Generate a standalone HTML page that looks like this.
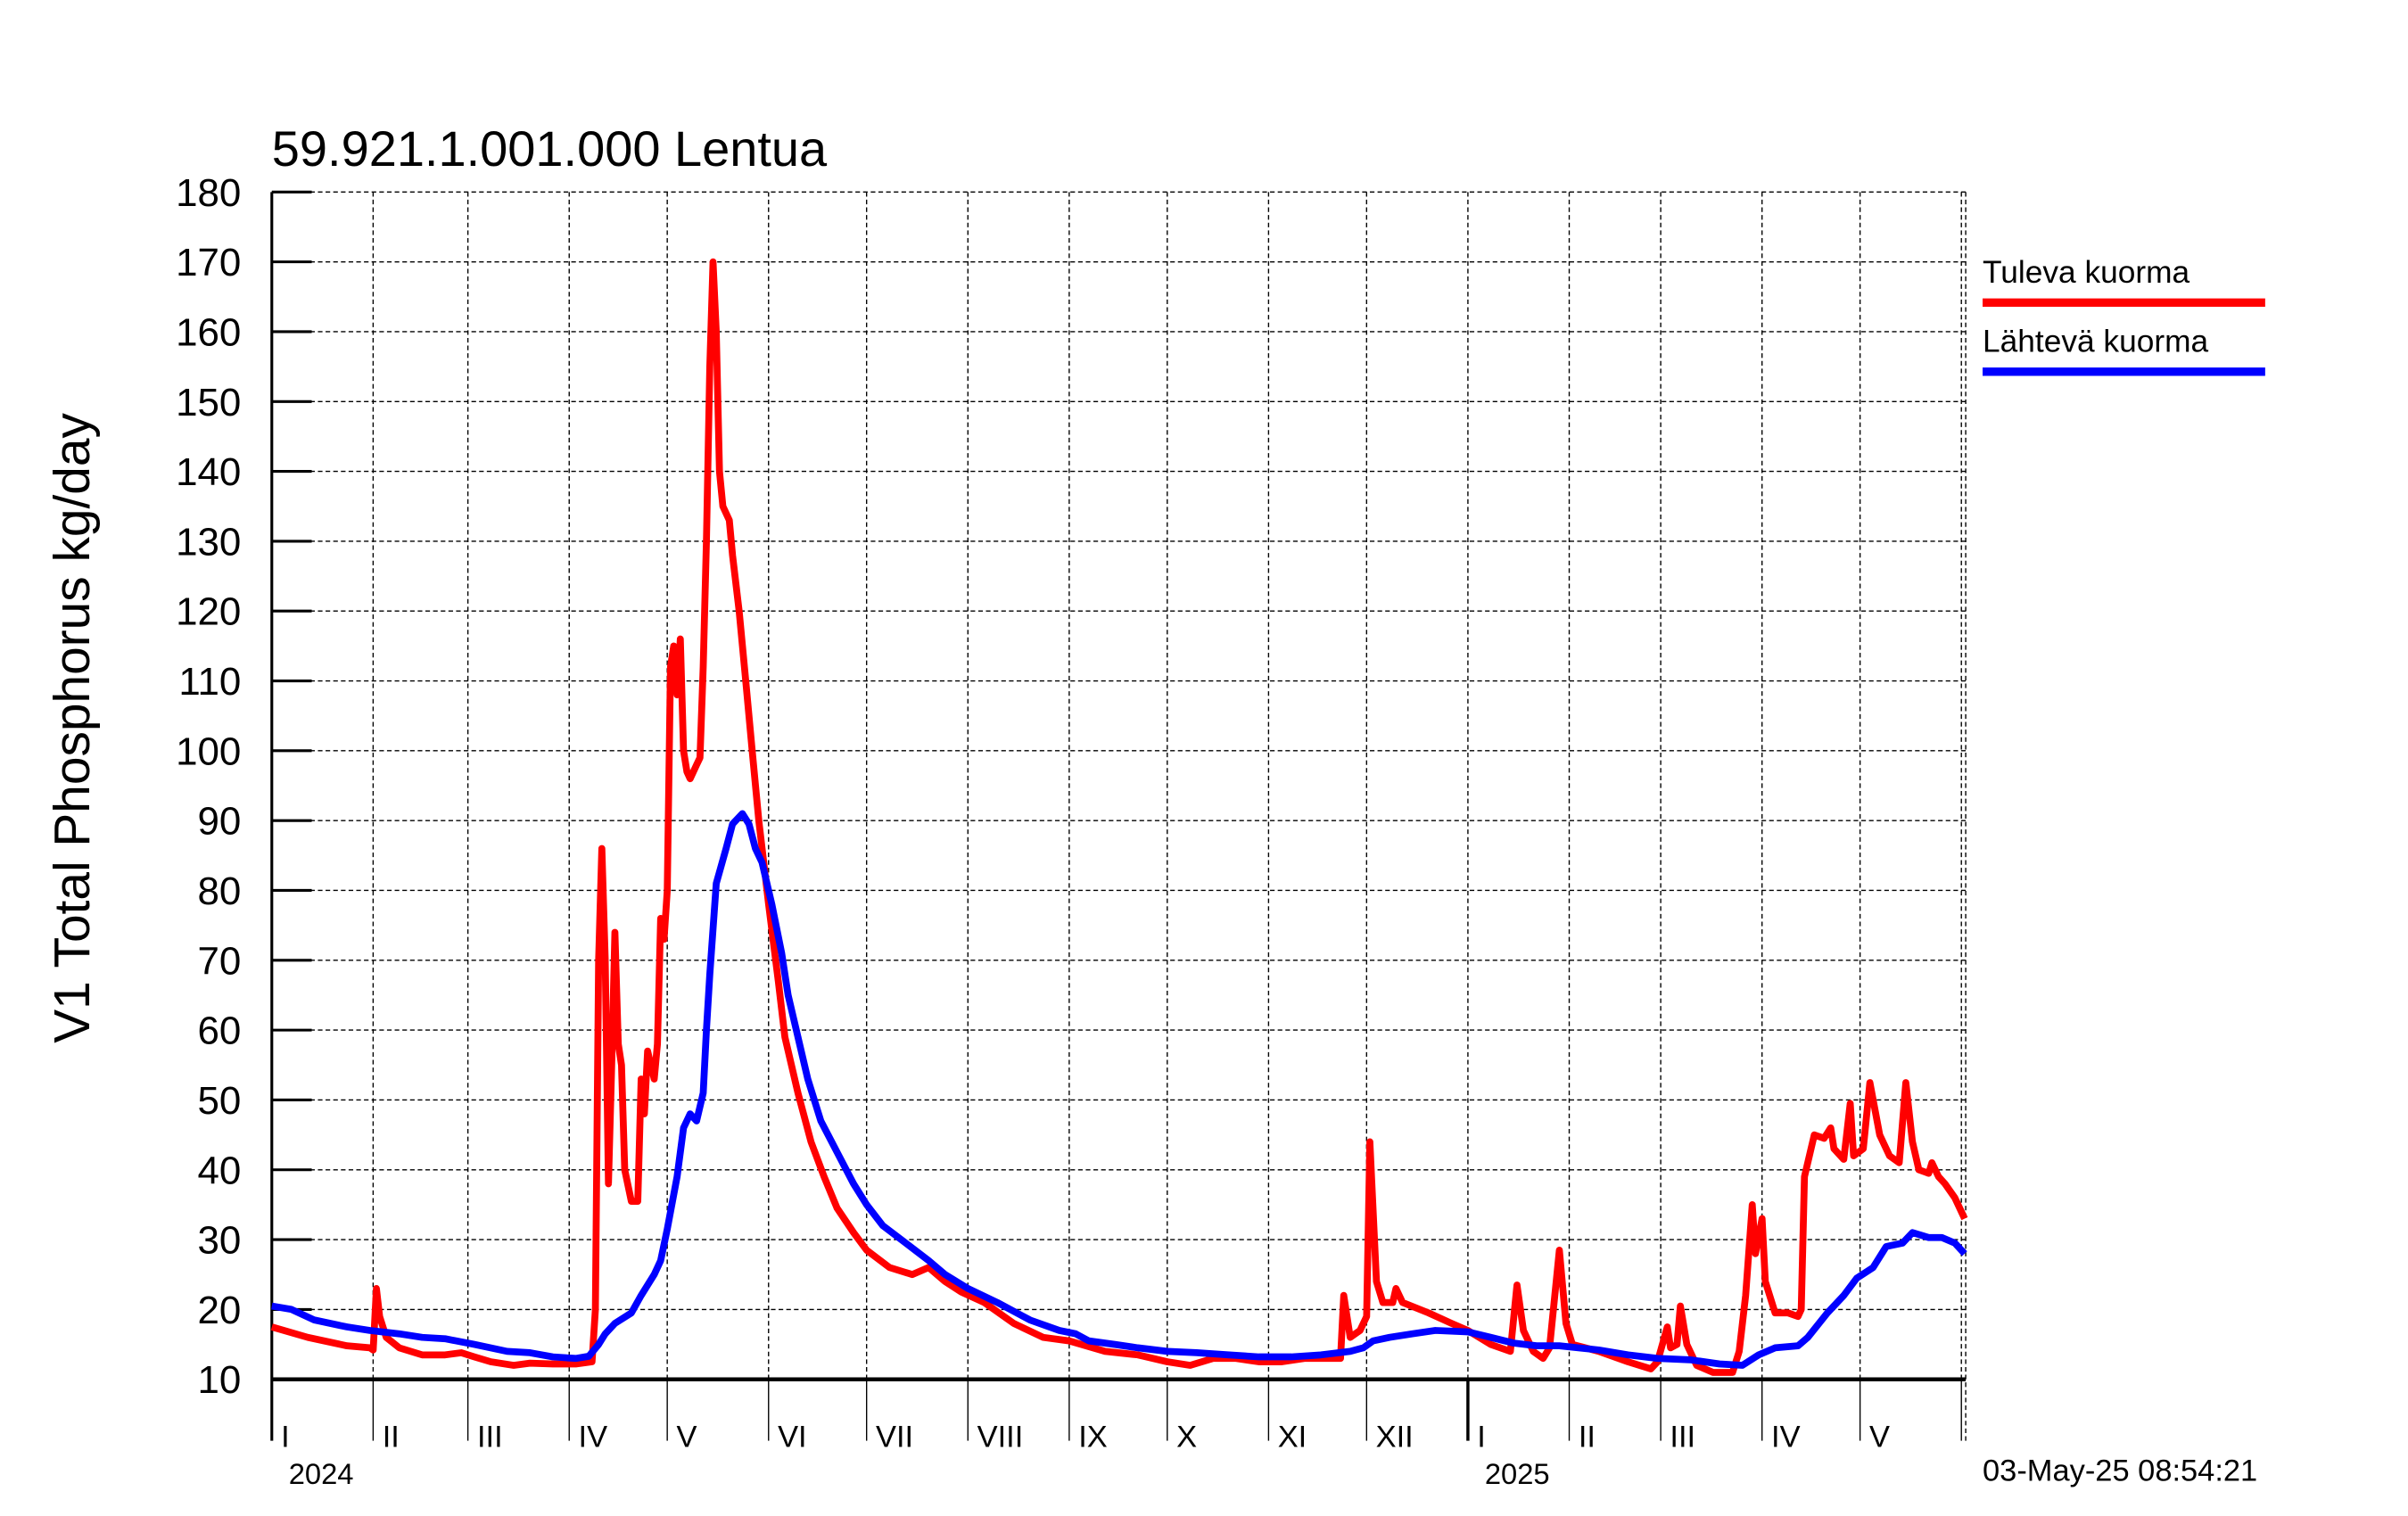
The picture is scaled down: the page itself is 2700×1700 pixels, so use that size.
<!DOCTYPE html>
<html><head><meta charset="utf-8"><title>59.921.1.001.000 Lentua</title>
<style>
html,body{margin:0;padding:0;background:#fff;}
svg{display:block;}
text{font-family:"Liberation Sans",sans-serif;fill:#000;}
</style></head>
<body>
<svg id="chart" width="2700" height="1700" viewBox="0 0 1568 987" preserveAspectRatio="none" xmlns="http://www.w3.org/2000/svg">
<text x="177" y="108" font-size="32.5">59.921.1.001.000 Lentua</text>
<text transform="translate(58,474) rotate(-90)" text-anchor="middle" font-size="33">V1 Total Phosphorus kg/day</text>
<g id="grid"></g>
<g id="axes"></g>
<g id="series"></g>
<g>
<text x="1291" y="184" font-size="20.5">Tuleva kuorma</text>
<line x1="1291" x2="1475" y1="197" y2="197" stroke="#ff0000" stroke-width="5.5"/>
<text x="1291" y="229" font-size="20.5">Lähtevä kuorma</text>
<line x1="1291" x2="1475" y1="242" y2="242" stroke="#0000ff" stroke-width="5.5"/>
</g>
<text x="1291" y="964" font-size="20">03-May-25 08:54:21</text>
</svg>
<script>
const yTicks = [10,20,30,40,50,60,70,80,90,100,110,120,130,140,150,160,170,180];
const monthStarts = [0,31,60,91,121,152,182,213,244,274,305,335,366,397,425,456,486,517];
const monthLabels = ["I","II","III","IV","V","VI","VII","VIII","IX","X","XI","XII","I","II","III","IV","V"];
const yearLabels = ["2024","2025"];
const yearStarts = [0,366];
const redDays = [0,11,23,30,31,32,33,35,39,46,53,58,62,67,74,79,86,93,98,99,100,101,102,103,104,105,106,107,108,110,112,113,114,115,117,118,119,120,121,122,123,124,125,126,127,128,130,131,132,133,134,135,136,137,138,140,141,143,145,147,149,152,155,157,161,165,169,173,178,182,189,196,201,206,211,218,227,236,244,255,265,274,281,288,295,302,309,316,323,327,328,330,333,335,336,338,340,343,344,346,354,361,366,373,379,381,383,386,389,391,394,396,398,406,415,422,424,427,428,430,431,433,436,441,447,449,451,453,454,456,457,460,464,467,468,469,472,475,477,478,481,483,484,487,489,492,495,498,500,502,504,507,508,510,512,515,518];
const redValues = [17.5,16,14.8,14.5,14.2,23,19,16,14.5,13.5,13.5,13.8,13.2,12.5,12,12.3,12.2,12.2,12.5,20,70,86,70,38,55,74,58,55,40,35.5,35.5,53,48,57,53,58,76,73,80,112,115,108,116,100,97,96,98,99,112,130,155,170,160,140,135,133,128,120,110,100,90,78,67,59,51,44,39,34.5,31,28.5,26,25,26,24,22.5,21,18,16,15.5,14,13.5,12.5,12,13,13,12.5,12.5,13,13,13,22,16,17,19,44,24,21,21,23,21,19.5,18,17,15,14,23.5,17,14,13,14.5,28.5,18,15,14,12.5,11.5,12.5,17.5,14.5,15,20.5,15,12,11,11,14,22,35,28,33,24,19.5,19.5,19,20,39,45,44.5,46,43,41.5,49.5,42,43,52.5,45,42,41,52.5,44,40,39.5,41,39,38,36,33];
const blueDays = [0,6,13,23,30,39,46,53,62,72,79,86,93,97,100,102,105,110,113,117,119,121,124,126,128,130,132,133,134,136,139,141,144,146,148,150,153,156,158,161,164,168,173,178,182,187,194,201,206,213,222,232,241,246,250,258,265,274,283,293,302,312,321,330,334,337,342,349,356,366,373,380,387,394,406,415,424,434,443,450,455,460,467,470,476,481,485,490,494,499,502,507,511,515,518];
const blueValues = [20.5,20,18.5,17.5,17,16.5,16,15.8,15,14,13.8,13.2,13,13.3,15,16.5,18,19.5,22,25,27,31.5,39,46,48,47,51,60,68,81,86,89.5,91,89.5,86,84,78,71,65,59,53,47,42.5,38,35,32,29.5,27,25,23,21,18.5,17,16.5,15.5,15,14.5,14,13.8,13.5,13.2,13.2,13.5,14,14.5,15.5,16,16.5,17,16.8,16,15.2,14.8,14.8,14.2,13.5,13,12.8,12.2,12,13.5,14.5,14.8,16,19.5,22,24.5,26,29,29.5,31,30.3,30.3,29.5,28];

const X0 = 177, PX_PER_DAY = 2.128, Y0 = 898, PX_PER_UNIT = 4.547, YMIN = 10;
function xScale(d){ return X0 + d*PX_PER_DAY; }
function yScale(v){ return Y0 - (v - YMIN)*PX_PER_UNIT; }
const NS = "http://www.w3.org/2000/svg";
function mk(tag, parent, attrs){ const e=document.createElementNS(NS,tag); for(const k in attrs) e.setAttribute(k,attrs[k]); parent.appendChild(e); return e; }
const gridG=document.getElementById('grid'), axesG=document.getElementById('axes'), seriesG=document.getElementById('series');
const topY = yScale(180), rightX = 1280, bottomExt = 938;

yTicks.forEach(v=>{
  const y=yScale(v);
  if(v!==YMIN){
    const g=mk('line',gridG,{x1:X0,x2:rightX,y1:y,y2:y,stroke:'#000','stroke-width':0.8,'stroke-dasharray':'3,2'});
    
    
  }
  const t=mk('line',axesG,{x1:X0,x2:X0+26,y1:y,y2:y,stroke:'#000','stroke-width':1.8});
  
  
  const l=mk('text',axesG,{x:157,y:y+9,'text-anchor':'end','font-size':25.5});
  l.textContent=v;
  
  
});
monthStarts.forEach((d,i)=>{
  if(i===0) return;
  const x=xScale(d);
  const g=mk('line',gridG,{x1:x,x2:x,y1:topY,y2:Y0,stroke:'#000','stroke-width':0.8,'stroke-dasharray':'3,2'});
  
  
  const isYear = yearStarts.indexOf(d)>0;
  const t=mk('line',axesG,{x1:x,x2:x,y1:Y0,y2:bottomExt,stroke:'#000','stroke-width':isYear?2:0.8});
  
  
});
const rb=mk('line',gridG,{x1:rightX,x2:rightX,y1:topY,y2:bottomExt,stroke:'#000','stroke-width':0.8,'stroke-dasharray':'3,2'});


monthLabels.forEach((m,i)=>{
  const x=xScale(monthStarts[i])+6;
  const t=mk('text',axesG,{x:x,y:942,'font-size':20});
  t.textContent=m;
  
  
});
yearLabels.forEach((yl,i)=>{
  const t=mk('text',axesG,{x:xScale(yearStarts[i])+11,y:966,'font-size':19});
  t.textContent=yl;
  
  
});
const ya=mk('line',axesG,{x1:X0,x2:X0,y1:topY,y2:bottomExt,stroke:'#000','stroke-width':1.8});



function drawSeries(days, vals, color, name){
  const pts=days.map((d,i)=>xScale(d).toFixed(1)+','+yScale(vals[i]).toFixed(1)).join(' ');
  const p=mk('polyline',seriesG,{points:pts,fill:'none',stroke:color,'stroke-width':4.5,'stroke-linejoin':'round'});
  
  
}
drawSeries(redDays, redValues, '#ff0000', 'series-tuleva-kuorma');
drawSeries(blueDays, blueValues, '#0000ff', 'series-lahteva-kuorma');

const xa=mk('line',axesG,{x1:X0,x2:rightX,y1:Y0,y2:Y0,stroke:'#000','stroke-width':2.6});


</script>
</body></html>
